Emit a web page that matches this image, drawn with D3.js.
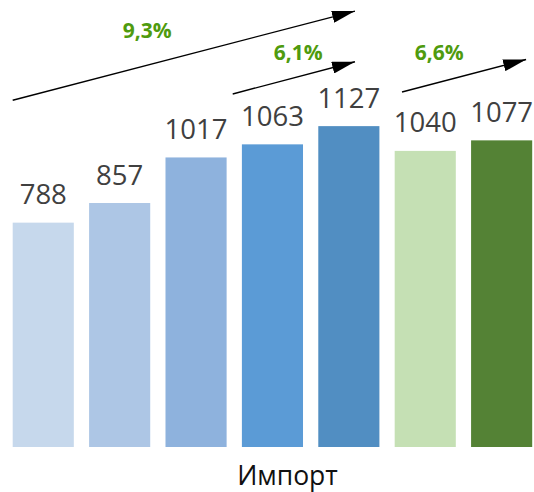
<!DOCTYPE html>
<html><head><meta charset="utf-8">
<script src="https://cdn.jsdelivr.net/npm/d3@7"></script>
<style>html,body{margin:0;padding:0;background:#fff}svg{display:block}</style>
</head><body>
<svg id="chart" width="534" height="492"></svg>
<script>
const categories = ["c1","c2","c3","c4","c5","c6","c7"];
const values = [788, 857, 1017, 1063, 1127, 1040, 1077];
const barColors = ["#c6d8ec","#adc6e5","#8eb2dd","#5b9bd6","#518ec2","#c5e0b4","#548235"];
const growthLabels = ["9,3%", "6,1%", "6,6%"];
// arrows: from category/offset-fraction/value to category/offset-fraction/value
const arrowFrom = [[0, 0.0, 1218], [3, -0.15, 1240], [5, 0.12, 1247]];
const arrowTo   = [[4, 0.6, 1531], [4, 0.6, 1353], [6, 0.9, 1361]];
const labelAt   = [[1, 0.95, 1436], [3, 0.92, 1359], [5, 0.73, 1359]];
const axisTitle = "Импорт";

const svg = d3.select("#chart");
const x = d3.scaleBand().domain(categories).range([12.7, 532.2]).paddingInner(0.2).paddingOuter(0);
const y = d3.scaleLinear().domain([0, 1570]).range([447, 0]);

svg.append("defs").append("marker")
  .attr("id","ah").attr("viewBox","0 0 23 12").attr("refX",23).attr("refY",6)
  .attr("markerWidth",23).attr("markerHeight",12).attr("markerUnits","userSpaceOnUse")
  .attr("orient","auto")
  .append("path").attr("d","M0,0 L23,6 L0,12 Z").attr("fill","#000");

svg.selectAll("rect.bar").data(values).join("rect").attr("class","bar")
  .attr("x",(d,i)=>x(categories[i])).attr("width",x.bandwidth())
  .attr("y",d=>y(d)).attr("height",d=>y(0)-y(d))
  .attr("fill",(d,i)=>barColors[i]);

svg.selectAll("text.val").data(values).join("text").attr("class","val")
  .attr("x",(d,i)=>x(categories[i])+x.bandwidth()/2)
  .attr("y",d=>y(d)-18.5)
  .attr("text-anchor","middle")
  .attr("font-family","'Open Sans', sans-serif").attr("font-size",27.5)
  .attr("fill","#404040").text(d=>d);

const px = (a)=> x(categories[a[0]]) + a[1]*x.bandwidth();
svg.selectAll("line.arr").data(arrowFrom).join("line").attr("class","arr")
  .attr("x1",d=>px(d)).attr("y1",d=>y(d[2]))
  .attr("x2",(d,i)=>px(arrowTo[i])).attr("y2",(d,i)=>y(arrowTo[i][2]))
  .attr("stroke","#000").attr("stroke-width",1.4).attr("marker-end","url(#ah)");

svg.selectAll("text.gr").data(growthLabels).join("text").attr("class","gr")
  .attr("x",(d,i)=>px(labelAt[i])).attr("y",(d,i)=>y(labelAt[i][2]))
  .attr("text-anchor","middle")
  .attr("font-family","'Open Sans', sans-serif").attr("font-weight","bold").attr("font-size",21)
  .attr("fill","#4f9b0e").text(d=>d);

svg.append("text").attr("x",287.5).attr("y",485).attr("text-anchor","middle")
  .attr("font-family","'Open Sans', sans-serif").attr("font-size",26.5)
  .attr("fill","#111").text(axisTitle);
</script>
</body></html>
